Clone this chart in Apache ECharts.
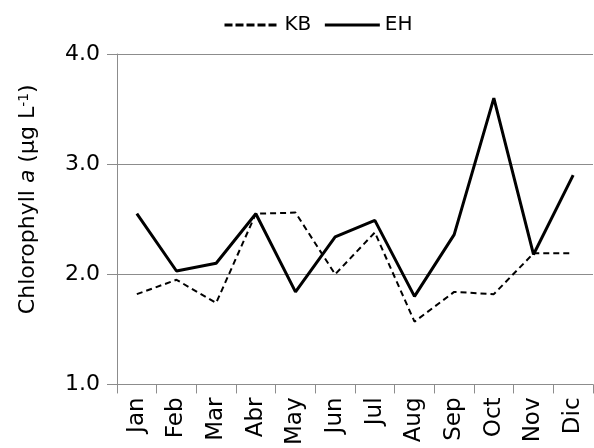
<!DOCTYPE html>
<html>
<head>
<meta charset="utf-8">
<script src="https://cdn.jsdelivr.net/npm/echarts@6/dist/echarts.min.js"></script>
<style>html,body{margin:0;padding:0;background:#fff;}#c{width:594px;height:448px;}</style>
</head>
<body>
<div id="c"></div>
<script>
var months = ['Jan','Feb','Mar','Abr','May','Jun','Jul','Aug','Sep','Oct','Nov','Dic'];
var kb = [1.82, 1.95, 1.74, 2.55, 2.56, 2.00, 2.38, 1.57, 1.84, 1.82, 2.19, 2.19];
var eh = [2.55, 2.03, 2.10, 2.55, 1.84, 2.34, 2.49, 1.80, 2.36, 3.60, 2.18, 2.90];
var yTicks = [1, 2, 3, 4];

var FONT = 'DejaVu Sans';
var GRID = '#8c8c8c';
var chart = echarts.init(document.getElementById('c'), null, {renderer: 'canvas'});
chart.setOption({
  backgroundColor: '#fff',
  animation: false,
  textStyle: {fontFamily: FONT, color: '#000'},
  legend: {
    top: 10, left: 218,
    itemWidth: 55, itemHeight: 14, itemGap: 12,
    itemStyle: {color: 'transparent', borderWidth: 0, opacity: 0},
    textStyle: {fontFamily: FONT, fontSize: 20, color: '#000'},
    data: [
      {name: 'KB', lineStyle: {width: 3, type: [8, 3], color: '#000'}},
      {name: 'EH', lineStyle: {width: 3, type: 'solid', color: '#000'}}
    ]
  },
  grid: {left: 117, right: 1, top: 54, bottom: 57, containLabel: false},
  xAxis: {
    type: 'category',
    data: months,
    boundaryGap: true,
    axisLine: {lineStyle: {color: GRID, width: 1}},
    axisTick: {show: true, length: 9, alignWithLabel: false, lineStyle: {color: GRID}},
    axisLabel: {rotate: 90, margin: 13, fontSize: 23, color: '#000', fontFamily: FONT, interval: 0},
    splitLine: {show: false}
  },
  yAxis: {
    type: 'value',
    min: yTicks[0], max: yTicks[yTicks.length - 1], interval: 1,
    axisLine: {show: true, lineStyle: {color: GRID, width: 1}},
    axisTick: {show: true, length: 10, lineStyle: {color: GRID}},
    axisLabel: {fontSize: 22, color: '#000', margin: 17, fontFamily: FONT,
      formatter: function (v) { return v.toFixed(1); }},
    splitLine: {show: true, lineStyle: {color: GRID, width: 1}},
    name: '{n|Chlorophyll }{i|a}{n| (μg L}{s|-1}{n|)}',
    nameLocation: 'middle',
    nameGap: 78,
    nameRotate: 90,
    nameTextStyle: {
      fontFamily: FONT, fontSize: 22, color: '#000',
      padding: [0, 0, 0, 40],
      rich: {
        n: {fontFamily: FONT, fontSize: 22, color: '#000'},
        i: {fontFamily: FONT, fontSize: 22, color: '#000', fontStyle: 'italic'},
        s: {fontFamily: FONT, fontSize: 14, color: '#000', verticalAlign: 'top', padding: [0, 0, 8, 0]}
      }
    }
  },
  series: [
    {
      name: 'KB', type: 'line', data: kb, symbol: 'none',
      lineStyle: {color: '#000', width: 2, type: [6, 4]},
      itemStyle: {color: '#000'}
    },
    {
      name: 'EH', type: 'line', data: eh, symbol: 'none',
      lineStyle: {color: '#000', width: 3, type: 'solid'},
      itemStyle: {color: '#000'}
    }
  ]
});
</script>
</body>
</html>
